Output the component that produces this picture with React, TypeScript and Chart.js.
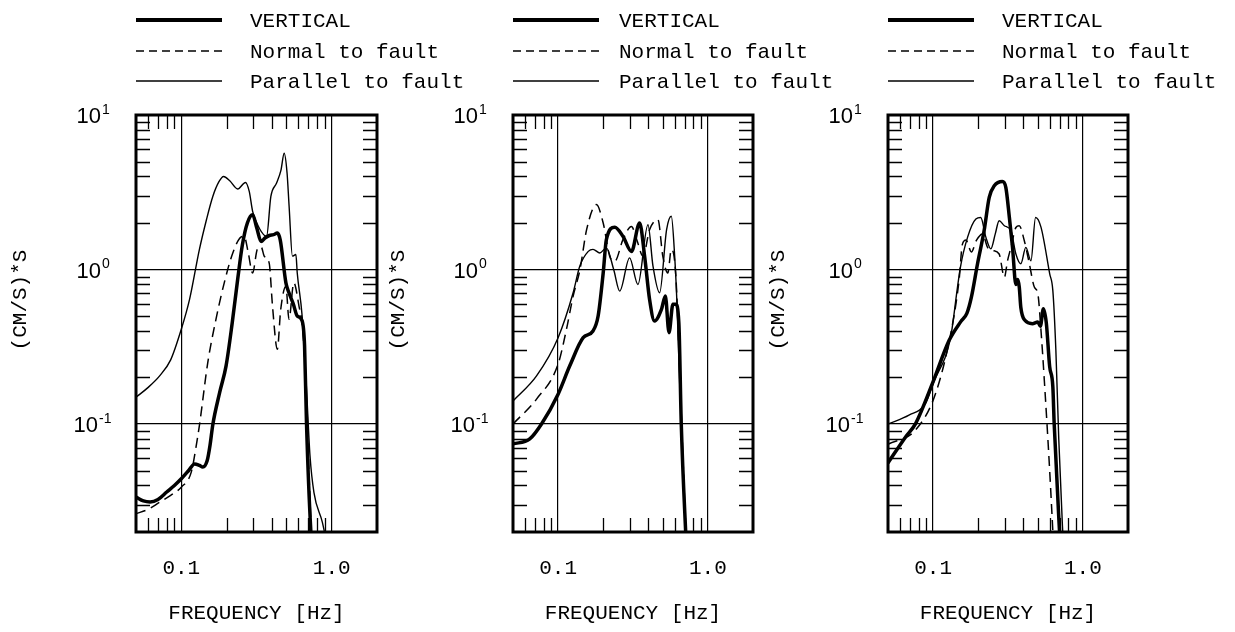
import { useEffect, useRef } from "react";
import { Chart, registerables } from "chart.js";

Chart.register(...registerables);

const W = 1235;
const H = 632;
const PLOT_TOP = 115;
const PLOT_BOTTOM = 532;

// ---------- data ----------
const SERIES_LABELS = ["VERTICAL", "Normal to fault", "Parallel to fault"];
const Y_TITLE = "(CM/S)*S";
const X_TITLE = "FREQUENCY [Hz]";

const X_TICKS = [0.1, 1.0];
const X_TICK_LABELS = ["0.1", "1.0"];
const Y_TICKS = [0.1, 1, 10];
const Y_TICK_BASES = ["10", "10", "10"];
const Y_TICK_EXPONENTS = ["-1", "0", "1"];
const X_MINOR = [0.06, 0.07, 0.08, 0.09, 0.2, 0.3, 0.4, 0.5, 0.6, 0.7, 0.8, 0.9];
const Y_MINOR = [0.03, 0.04, 0.05, 0.06, 0.07, 0.08, 0.09, 0.2, 0.3, 0.4, 0.5, 0.6, 0.7, 0.8, 0.9, 2, 3, 4, 5, 6, 7, 8, 9];

// Panel 1
const p1VertF = [0.05, 0.056, 0.062, 0.07, 0.08, 0.09, 0.1, 0.112, 0.1225, 0.132, 0.139, 0.1487, 0.155, 0.162, 0.18, 0.1985, 0.218, 0.237, 0.255, 0.275, 0.298, 0.318, 0.339, 0.36, 0.385, 0.41, 0.435, 0.455, 0.496, 0.52, 0.555, 0.59, 0.636, 0.66, 0.68, 0.725, 0.76];
const p1VertV = [0.0337, 0.0318, 0.0313, 0.0325, 0.0363, 0.04, 0.0442, 0.05, 0.0552, 0.054, 0.0526, 0.058, 0.072, 0.099, 0.16, 0.238, 0.45, 0.862, 1.45, 2.0, 2.26, 1.85, 1.52, 1.6, 1.66, 1.68, 1.72, 1.55, 0.82, 0.707, 0.6, 0.5, 0.465, 0.32, 0.1, 0.021, 0.012];
const p1NormF = [0.05, 0.06, 0.0718, 0.085, 0.1, 0.1165, 0.125, 0.132, 0.15, 0.17, 0.193, 0.22, 0.249, 0.262, 0.278, 0.298, 0.32, 0.34, 0.356, 0.384, 0.404, 0.435, 0.458, 0.496, 0.52, 0.56, 0.606, 0.64, 0.67, 0.7, 0.74];
const p1NormV = [0.0263, 0.028, 0.0312, 0.0345, 0.039, 0.0488, 0.07, 0.098, 0.25, 0.476, 0.82, 1.28, 1.62, 1.64, 1.3, 0.95, 1.35, 1.4, 1.22, 1.1, 0.58, 0.305, 0.55, 0.78, 0.476, 0.82, 0.58, 0.42, 0.2, 0.06, 0.015];
const p1ParF = [0.05, 0.06, 0.0718, 0.085, 0.1, 0.1135, 0.132, 0.147, 0.162, 0.178, 0.191, 0.21, 0.237, 0.267, 0.283, 0.298, 0.33, 0.369, 0.394, 0.43, 0.46, 0.483, 0.505, 0.521, 0.548, 0.578, 0.59, 0.636, 0.68, 0.717, 0.762, 0.866, 0.95];
const p1ParV = [0.149, 0.172, 0.205, 0.26, 0.41, 0.64, 1.35, 2.1, 2.97, 3.7, 4.0, 3.75, 3.32, 3.66, 3.2, 2.38, 1.85, 1.64, 2.97, 3.63, 4.4, 5.66, 4.2, 2.56, 1.22, 1.25, 0.95, 0.5, 0.168, 0.0625, 0.036, 0.0232, 0.015];

// Panel 2
const p2VertF = [0.05, 0.0647, 0.0775, 0.1, 0.1197, 0.147, 0.171, 0.185, 0.2, 0.21, 0.239, 0.271, 0.309, 0.35, 0.378, 0.408, 0.44, 0.489, 0.52, 0.55, 0.584, 0.61, 0.64, 0.664, 0.72];
const p2VertV = [0.0743, 0.0801, 0.1, 0.156, 0.238, 0.362, 0.4, 0.5, 0.95, 1.56, 1.88, 1.64, 1.31, 2.0, 1.22, 0.64, 0.464, 0.55, 0.673, 0.39, 0.595, 0.595, 0.45, 0.1, 0.015];
const p2NormF = [0.05, 0.0718, 0.1, 0.1137, 0.126, 0.14, 0.155, 0.18, 0.2, 0.221, 0.239, 0.271, 0.309, 0.335, 0.369, 0.408, 0.464, 0.5, 0.54, 0.57, 0.61, 0.65, 0.72];
const p2NormV = [0.1, 0.145, 0.244, 0.41, 0.673, 1.0, 1.81, 2.63, 2.0, 1.22, 1.13, 1.56, 1.9, 1.56, 1.22, 1.81, 2.1, 1.22, 0.95, 1.35, 0.93, 0.2, 0.015];
const p2ParF = [0.05, 0.0718, 0.1, 0.126, 0.1395, 0.159, 0.171, 0.19, 0.21, 0.235, 0.258, 0.3, 0.341, 0.398, 0.43, 0.476, 0.53, 0.57, 0.6, 0.62, 0.65, 0.72];
const p2ParV = [0.141, 0.205, 0.362, 0.707, 1.05, 1.31, 1.35, 1.28, 1.38, 1.0, 0.725, 1.19, 0.8, 1.95, 1.05, 0.707, 1.81, 2.21, 1.22, 0.64, 0.168, 0.015];

// Panel 3
const p3VertF = [0.05, 0.0657, 0.0766, 0.099, 0.128, 0.153, 0.168, 0.18, 0.198, 0.219, 0.237, 0.256, 0.29, 0.306, 0.323, 0.339, 0.357, 0.367, 0.376, 0.385, 0.41, 0.46, 0.5, 0.52, 0.545, 0.57, 0.6, 0.63, 0.643, 0.695, 0.72];
const p3VertV = [0.056, 0.0828, 0.101, 0.183, 0.348, 0.46, 0.52, 0.66, 1.09, 1.78, 2.93, 3.48, 3.71, 3.39, 2.17, 1.39, 0.8, 0.86, 0.77, 0.57, 0.469, 0.446, 0.457, 0.43, 0.558, 0.45, 0.235, 0.174, 0.101, 0.0219, 0.012];
const p3NormF = [0.05, 0.0766, 0.104, 0.135, 0.149, 0.157, 0.166, 0.18, 0.195, 0.214, 0.231, 0.249, 0.276, 0.299, 0.314, 0.331, 0.357, 0.376, 0.406, 0.439, 0.474, 0.5, 0.525, 0.553, 0.6, 0.64];
const p3NormV = [0.074, 0.0918, 0.158, 0.446, 0.85, 1.46, 1.55, 1.3, 1.55, 1.7, 1.39, 1.33, 1.26, 0.89, 1.14, 1.39, 1.87, 1.92, 1.54, 1.09, 0.77, 0.7, 0.404, 0.19, 0.05, 0.015];
const p3ParF = [0.05, 0.069, 0.089, 0.101, 0.131, 0.145, 0.152, 0.17, 0.193, 0.208, 0.225, 0.243, 0.26, 0.276, 0.299, 0.331, 0.357, 0.385, 0.416, 0.45, 0.483, 0.525, 0.6, 0.63, 0.66, 0.69, 0.73, 0.76];
const p3ParV = [0.1, 0.114, 0.136, 0.187, 0.366, 0.75, 1.03, 1.62, 2.12, 2.17, 1.62, 1.36, 1.7, 2.07, 1.92, 1.78, 1.26, 1.09, 1.39, 1.14, 2.17, 1.88, 0.94, 0.73, 0.3, 0.08, 0.022, 0.012];

type Panel = {
  left: number;
  right: number;
  legendTextOffset: number;
  yTitleX: number;
  vert: [number[], number[]];
  norm: [number[], number[]];
  par: [number[], number[]];
};

const PANELS: Panel[] = [
  { left: 136, right: 377, legendTextOffset: 114, yTitleX: 20, vert: [p1VertF, p1VertV], norm: [p1NormF, p1NormV], par: [p1ParF, p1ParV] },
  { left: 513, right: 753, legendTextOffset: 106, yTitleX: 398, vert: [p2VertF, p2VertV], norm: [p2NormF, p2NormV], par: [p2ParF, p2ParV] },
  { left: 888, right: 1128, legendTextOffset: 114, yTitleX: 778, vert: [p3VertF, p3VertV], norm: [p3NormF, p3NormV], par: [p3ParF, p3ParV] },
];

const MONO = "'Liberation Mono', 'DejaVu Sans Mono', monospace";
const SANS = "'Liberation Sans', Arial, sans-serif";
const Y_AXIS_W = 60;
const LEGEND_ROWS = [20, 51, 81];
const LINE_WIDTHS = [3.5, 1.5, 1.4];
const LEGEND_WIDTHS = [4, 1.4, 1.4];

function pts(s: [number[], number[]]) {
  return s[0].map((f, i) => ({ x: f, y: s[1][i] }));
}

function makeFramePlugin(panel: Panel) {
  return {
    id: "frameDecor",
    afterDraw(chart: any) {
      const ctx: CanvasRenderingContext2D = chart.ctx;
      const { left, right, top, bottom } = chart.chartArea;
      const xs = chart.scales.x;
      const ys = chart.scales.y;
      ctx.save();
      ctx.strokeStyle = "#000";
      ctx.fillStyle = "#000";
      // minor ticks inside
      ctx.lineWidth = 1.3;
      ctx.setLineDash([]);
      ctx.beginPath();
      X_MINOR.forEach((v) => {
        const px = Math.round(xs.getPixelForValue(v)) + 0.5;
        ctx.moveTo(px, bottom);
        ctx.lineTo(px, bottom - 14);
        ctx.moveTo(px, top);
        ctx.lineTo(px, top + 14);
      });
      Y_MINOR.forEach((v) => {
        const py = Math.round(ys.getPixelForValue(v)) + 0.5;
        ctx.moveTo(left, py);
        ctx.lineTo(left + 14, py);
        ctx.moveTo(right, py);
        ctx.lineTo(right - 14, py);
      });
      ctx.stroke();
      // frame
      ctx.lineWidth = 3;
      ctx.strokeRect(left, top, right - left, bottom - top);
      // y tick labels: base + superscript exponent
      Y_TICKS.forEach((v, i) => {
        const py = ys.getPixelForValue(v);
        const exp = Y_TICK_EXPONENTS[i];
        const neg = exp.startsWith("-");
        const baseRight = left - (neg ? 38 : 35);
        ctx.font = `22px ${SANS}`;
        ctx.textAlign = "right";
        ctx.textBaseline = "middle";
        ctx.fillText(Y_TICK_BASES[i], baseRight, py + 2);
        ctx.font = `14px ${SANS}`;
        ctx.textAlign = "left";
        ctx.fillText(exp, baseRight + 1, py - 5);
      });
      // legend
      chart.data.datasets.forEach((ds: any, i: number) => {
        const y = LEGEND_ROWS[i];
        ctx.beginPath();
        ctx.lineWidth = LEGEND_WIDTHS[i];
        ctx.setLineDash(i === 1 ? [8, 5] : []);
        ctx.moveTo(left, y);
        ctx.lineTo(left + 86, y);
        ctx.stroke();
        ctx.setLineDash([]);
        ctx.font = `21px ${MONO}`;
        ctx.textAlign = "left";
        ctx.textBaseline = "middle";
        ctx.fillText(ds.label, left + panel.legendTextOffset, y + 1);
      });
      // y title
      ctx.translate(panel.yTitleX, 300);
      ctx.rotate(-Math.PI / 2);
      ctx.font = `21px ${MONO}`;
      ctx.textAlign = "center";
      ctx.textBaseline = "middle";
      ctx.fillText(Y_TITLE, 0, 0);
      ctx.restore();
    },
  };
}

function buildConfig(panel: Panel): any {
  const common = {
    borderColor: "#000",
    pointRadius: 0,
    fill: false,
    cubicInterpolationMode: "monotone",
    clip: 0,
  };
  return {
    type: "line",
    data: {
      datasets: [
        { ...common, label: SERIES_LABELS[0], data: pts(panel.vert), borderWidth: LINE_WIDTHS[0] },
        { ...common, label: SERIES_LABELS[1], data: pts(panel.norm), borderWidth: LINE_WIDTHS[1], borderDash: [10, 6] },
        { ...common, label: SERIES_LABELS[2], data: pts(panel.par), borderWidth: LINE_WIDTHS[2] },
      ],
    },
    options: {
      responsive: false,
      maintainAspectRatio: false,
      animation: false,
      events: [],
      layout: {
        padding: { left: panel.left - Y_AXIS_W, right: W - panel.right, top: PLOT_TOP, bottom: 0 },
      },
      plugins: {
        legend: { display: false },
        tooltip: { enabled: false },
        title: { display: false },
      },
      scales: {
        x: {
          type: "logarithmic",
          min: 0.05,
          max: 2,
          position: "bottom",
          afterBuildTicks: (s: any) => {
            s.ticks = X_TICKS.map((v) => ({ value: v }));
          },
          afterFit: (s: any) => {
            s.height = H - PLOT_BOTTOM;
          },
          ticks: {
            autoSkip: false,
            maxRotation: 0,
            color: "#000",
            padding: 24,
            font: { family: MONO, size: 21 },
            callback: (_v: any, i: number) => X_TICK_LABELS[i],
          },
          grid: { color: "#000", lineWidth: 1.2, drawTicks: false },
          border: { display: false },
          title: {
            display: true,
            text: X_TITLE,
            color: "#000",
            font: { family: MONO, size: 21 },
            padding: { top: 0, bottom: 6 },
          },
        },
        y: {
          type: "logarithmic",
          min: 0.02,
          max: 10,
          position: "left",
          afterBuildTicks: (s: any) => {
            s.ticks = Y_TICKS.map((v) => ({ value: v }));
          },
          afterFit: (s: any) => {
            s.width = Y_AXIS_W;
          },
          ticks: { display: false },
          grid: { color: "#000", lineWidth: 1.2, drawTicks: false },
          border: { display: false },
        },
      },
    },
    plugins: [makeFramePlugin(panel)],
  };
}

function PanelChart({ panel }: { panel: Panel }) {
  const ref = useRef<HTMLCanvasElement | null>(null);
  useEffect(() => {
    if (!ref.current) return;
    const chart = new Chart(ref.current, buildConfig(panel));
    return () => chart.destroy();
  }, [panel]);
  return (
    <canvas
      ref={ref}
      width={W}
      height={H}
      style={{ position: "absolute", left: 0, top: 0, width: W, height: H }}
    />
  );
}

export default function App() {
  return (
    <div style={{ position: "absolute", left: 0, top: 0, width: W, height: H, background: "#fff", overflow: "hidden" }}>
      {PANELS.map((p, i) => (
        <PanelChart key={i} panel={p} />
      ))}
    </div>
  );
}
